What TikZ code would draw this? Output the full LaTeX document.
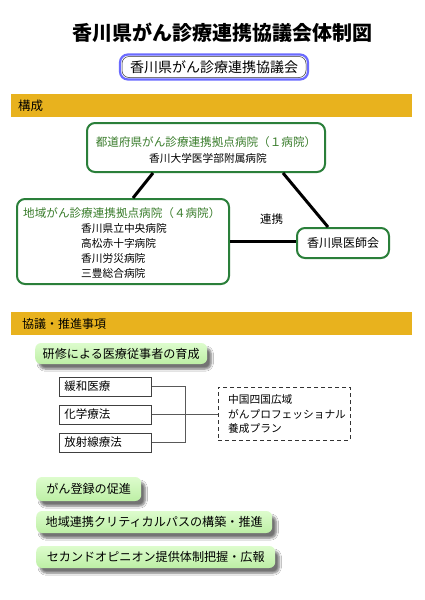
\documentclass[tikz,border=0pt]{standalone}
\usepackage{fontspec}
\setmainfont{Noto Sans CJK JP}
\usetikzlibrary{calc,shadows.blur}
\definecolor{barY}{HTML}{E8B21E}
\definecolor{boxG}{HTML}{2A7F3A}
\definecolor{txtG}{HTML}{3A7D2C}
\definecolor{blueB}{HTML}{6B6BFF}
\definecolor{pillT}{HTML}{DDFCCD}
\definecolor{pillB}{HTML}{BDEFA5}
\newcommand{\fs}[1]{\fontsize{#1}{#1}\selectfont}
\tikzset{
  gbox/.style={draw=boxG, line width=2pt, rounded corners=8pt, fill=white, inner sep=0pt},
  bar/.style={fill=barY, draw=none, minimum width=401pt, minimum height=23pt, inner sep=0pt, anchor=west},
  barlabel/.style={anchor=west, inner sep=0pt, font=\fs{12.5}},
  link/.style={line width=3pt, black},
  pill/.style={anchor=west, rounded corners=6pt, top color=pillT, bottom color=pillB, draw=none,
    blur shadow={shadow xshift=4pt, shadow yshift=-5pt, shadow blur steps=6, shadow opacity=55},
    font=\fs{12.1}, inner xsep=0pt, inner ysep=0pt, align=left},
  sbox/.style={draw=black!75, line width=0.8pt, minimum width=92pt, minimum height=19pt, anchor=west,
    inner xsep=5pt, text width=82pt, align=left, font=\fs{11.5}, inner ysep=0pt},
  thin/.style={draw=black!65, line width=0.8pt},
  gtitle/.style={text=txtG, font=\fs{11.6}, inner sep=0pt},
  btext/.style={font=\fs{10.7}, inner sep=0pt},
}
\begin{document}
\begin{tikzpicture}[x=1pt,y=-1pt]
\useasboundingbox (0,0) rectangle (424,600);
\fill[white] (0,0) rectangle (424,600);

% title
\node[font=\bfseries\fs{20}, inner sep=0pt] (title) at (222.5,33) {香川県がん診療連携協議会体制図};

% council box
\node[draw=blueB, line width=2.2pt, rounded corners=8pt, minimum width=188pt, minimum height=25pt, inner sep=0pt] (council) at (214,67) {};
\node[draw=black!80, line width=0.5pt, rounded corners=7pt, minimum width=184pt, minimum height=21pt, inner sep=0pt, font=\fs{14}] (councilt) at (214,67) {香川県がん診療連携協議会};

% bar 1
\node[bar] (bar1) at (11,105.5) {};
\node[barlabel] (bar1t) at (18,105.5) {構成};

% top box
\node[gbox, minimum width=238pt, minimum height=49pt] (top) at (206,147.5) {};
\node[gtitle] (topt) at (206,142) {都道府県がん診療連携拠点病院（１病院）};
\node[btext] (topl) at (208,158) {香川大学医学部附属病院};

% left box
\node[gbox, minimum width=212pt, minimum height=85pt] (left) at (123,241.5) {};
\node[gtitle, anchor=west] (leftt) at (23,213) {地域がん診療連携拠点病院（４病院）};
\node[btext, anchor=west] (l1) at (81,228.5) {香川県立中央病院};
\node[btext, anchor=west] (l2) at (81,243.5) {高松赤十字病院};
\node[btext, anchor=west] (l3) at (81,258.5) {香川労災病院};
\node[btext, anchor=west] (l4) at (81,273) {三豊総合病院};

% right box
\node[gbox, minimum width=92pt, minimum height=30pt, font=\fs{12}] (right) at (343,243) {香川県医師会};

% links
\draw[link] ($(top.south)+(-53,0)$) -- ($(left.north)+(10,0)$);
\draw[link] ($(top.south)+(77,0)$) -- ($(right.north)+(-15,0)$);
\draw[link] (left.east |- 0,241) -- (right.west |- 0,241);
\node[font=\fs{11.5}, inner sep=0pt] (renkei) at (271.5,219) {連携};

% bar 2
\node[bar] (bar2) at (11,323.5) {};
\node[barlabel, font=\fs{12}] (bar2t) at (22,323.5) {協議・推進事項};

% pill 1
\node[pill, minimum width=172pt, minimum height=21pt, inner xsep=7pt] (p1) at (35,353.5) {研修による医療従事者の育成};

% small boxes
\node[sbox] (b1) at (59,386.5) {緩和医療};
\node[sbox] (b2) at (59,414.5) {化学療法};
\node[sbox] (b3) at (59,442.5) {放射線療法};
\coordinate (j) at (185,0);
\draw[thin] (b1.east) -- (b1.east -| j) -- (b3.east -| j) -- (b3.east);
\node[draw=black!80, dashed, dash pattern=on 4pt off 3pt, line width=1pt, minimum width=132pt, minimum height=53pt, inner sep=0pt] (plan) at (284,413.5) {};
\draw[thin] (b2.east) -- (plan.west |- b2.east);
\node[btext, anchor=west] (pl1) at (228,399.5) {中国四国広域};
\node[btext, anchor=west] (pl2) at (228,414) {がんプロフェッショナル};
\node[btext, anchor=west] (pl3) at (228,428.5) {養成プラン};

% other pills
\node[pill, minimum width=105pt, minimum height=24pt, inner xsep=10pt] (p2) at (36,489) {がん登録の促進};
\node[pill, minimum width=236pt, minimum height=22pt, inner xsep=9pt] (p3) at (36,522) {地域連携クリティカルパスの構築・推進};
\node[pill, minimum width=239pt, minimum height=22pt, inner xsep=9pt] (p4) at (36,557) {セカンドオピニオン提供体制把握・広報};
\end{tikzpicture}
\end{document}
